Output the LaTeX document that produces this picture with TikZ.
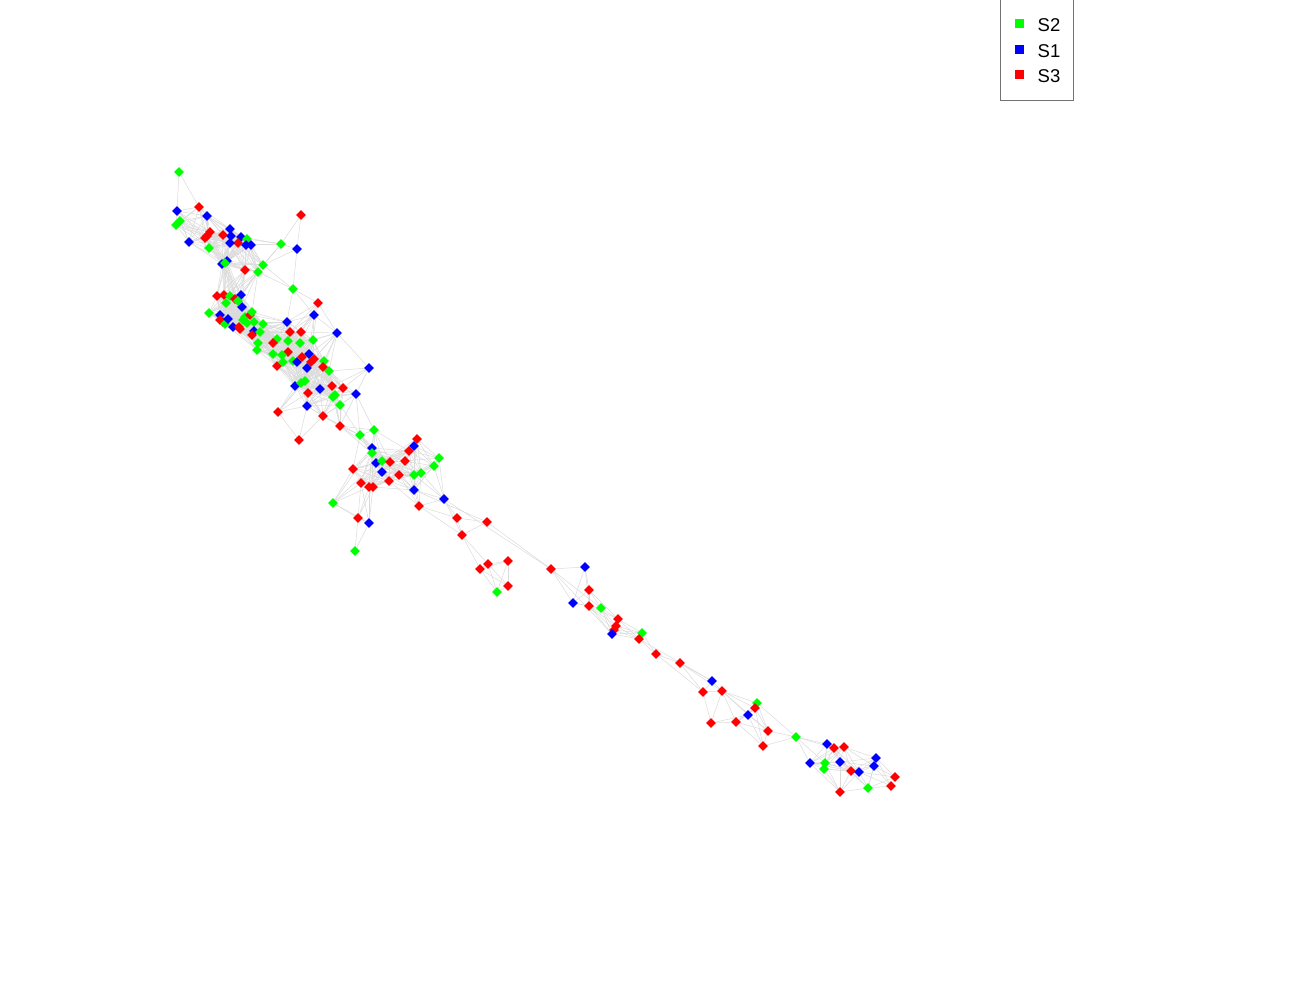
\documentclass[tikz,border=0pt]{standalone}
\usepackage{fontspec}
\setmainfont{Liberation Sans}
\usetikzlibrary{shapes.geometric,backgrounds}
\definecolor{cg}{RGB}{0,255,0}
\definecolor{cb}{RGB}{0,0,255}
\definecolor{cr}{RGB}{255,0,0}
\definecolor{edgegray}{RGB}{218,218,218}
\newcount\ci \newcount\cj \newcount\ddx \newcount\ddy
\begin{document}
\begin{tikzpicture}[x=1pt,y=-1pt,
  pt/.style={diamond,inner sep=0pt,minimum size=10pt,fill=#1},
  link/.style={draw=edgegray,line width=0.5pt},
  legsq/.style={rectangle,inner sep=0pt,minimum size=9pt,fill=#1},
  legtxt/.style={anchor=west,inner sep=0pt,font=\fontsize{18.5}{21}\selectfont}]
\useasboundingbox (0,0) rectangle (1300,1000);
\foreach \x/\y/\c [count=\i] in {
179/172/g,199/207/r,177/211/b,207/216/b,301/215/r,180/221/g,176/225/g,189/242/b,
210/232/r,207/236/r,205/238/r,223/235/r,230/229/b,231/236/b,241/237/b,247/239/g,
238/243/r,230/243/b,246/245/b,251/245/b,209/248/g,281/244/g,297/249/b,222/264/b,
227/261/b,225/263/g,245/270/r,263/265/g,258/272/g,
293/289/g,318/303/r,314/315/b,287/322/b,217/296/r,224/295/r,230/296/g,241/295/b,
226/303/g,235/299/r,242/307/b,238/301/g,209/313/g,220/315/b,220/320/r,223/322/r,
225/324/g,228/319/b,233/327/b,240/329/r,243/320/g,245/317/g,250/315/r,252/312/g,
239/327/r,247/323/g,254/322/g,263/324/g,254/331/b,252/335/r,260/332/g,290/332/r,
301/332/r,337/333/b,313/340/g,300/343/g,288/341/g,277/339/g,273/343/r,258/343/g,
257/350/g,273/354/g,288/352/r,282/355/g,277/366/r,283/362/g,293/361/g,297/362/b,
309/354/b,302/357/r,311/362/r,314/359/r,307/368/b,324/361/g,329/371/g,323/367/r,
369/368/b,295/386/b,301/383/g,305/381/g,320/389/b,332/386/r,343/388/r,308/393/r,
333/397/g,335/395/g,340/405/g,356/394/b,307/406/b,323/416/r,278/412/r,340/426/r,
299/440/r,360/435/g,374/430/g,372/448/b,
372/453/g,376/463/b,382/461/g,382/472/b,390/462/r,405/461/r,417/439/r,414/446/b,
409/451/r,439/458/g,434/466/g,421/473/g,414/475/g,399/475/r,389/481/r,353/469/r,
361/483/r,369/487/r,373/487/r,414/490/b,444/499/b,419/506/r,333/503/g,358/518/r,
369/523/b,355/551/g,
457/518/r,487/522/r,462/535/r,508/561/r,488/564/r,480/569/r,508/586/r,497/592/g,
551/569/r,585/567/b,589/590/r,573/603/b,589/606/r,601/608/g,
618/619/r,616/626/r,614/630/r,612/634/b,642/633/g,639/639/r,656/654/r,680/663/r,
712/681/b,703/692/r,722/691/r,757/703/g,755/708/r,748/715/b,711/723/r,736/722/r,
768/731/r,763/746/r,
796/737/g,827/744/b,834/748/r,844/747/r,810/763/b,825/763/g,824/769/g,840/762/b,
851/771/r,859/772/b,876/758/b,874/766/b,895/777/r,891/786/r,868/788/g,840/792/r}
{
  \node[pt=c\c,alias=p\x-\y] (n\i) at (\x,\y) {};
  \expandafter\xdef\csname NX\i\endcsname{\x}%
  \expandafter\xdef\csname NY\i\endcsname{\y}%
  \xdef\NN{\i}%
}
\begin{pgfonlayer}{background}
\ci=0
\loop\ifnum\ci<\NN
  \advance\ci 1
  \cj=\ci
  {\loop\ifnum\cj<\NN
     \advance\cj 1
     \ddx=\numexpr\csname NX\the\ci\endcsname-\csname NX\the\cj\endcsname\relax
     \ddy=\numexpr\csname NY\the\ci\endcsname-\csname NY\the\cj\endcsname\relax
     \ifnum\numexpr\ddx*\ddx+\ddy*\ddy\relax<1764
       \edef\ea{\the\ci}\edef\eb{\the\cj}%
       \draw[link] (n\ea) -- (n\eb);
     \fi
   \repeat}
\repeat
\foreach \a/\b in {444-499/551-569,551-569/601-608,551-569/612-634,757-703/796-737,
  722-691/768-731,333-503/372-448,333-503/376-463,414-490/487-522,487-522/551-569,
  369-368/337-333,680-663/722-691,656-654/703-692,639-639/712-681,419-506/462-535}
  {\draw[link] (p\a) -- (p\b);}
\end{pgfonlayer}
% legend
\node[draw=black!55,line width=0.8pt,fill=white,minimum width=73pt,minimum height=106pt,inner sep=0pt] (legbox) at (1036.5,47) {};
\node[legsq=cg] (lg) at (1019,24) {};
\node[legsq=cb] (lb) at (1019,50) {};
\node[legsq=cr] (lr) at (1019,75) {};
\node[legtxt] (tg) at (1037.5,25.5) {S2};
\node[legtxt] (tb) at (1037.5,51) {S1};
\node[legtxt] (tr) at (1037.5,76) {S3};
\end{tikzpicture}
\end{document}
